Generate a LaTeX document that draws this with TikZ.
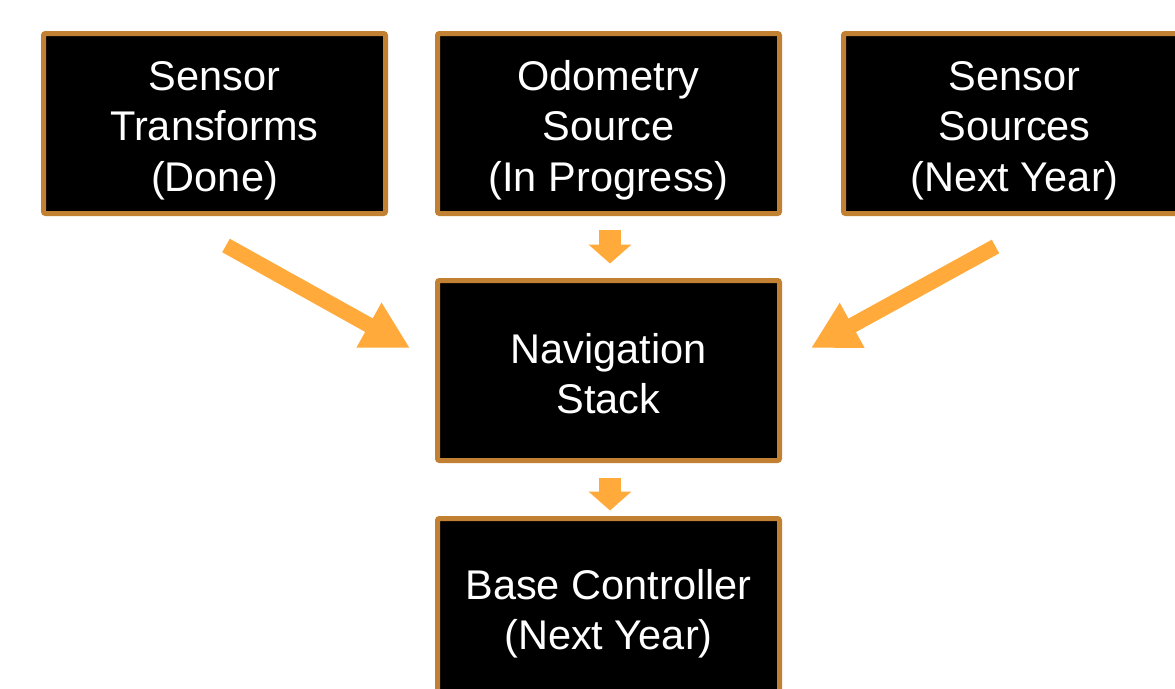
\documentclass[tikz,border=0pt]{standalone}
\usepackage{fontspec}
\setmainfont{Liberation Sans}
\usetikzlibrary{arrows.meta,calc}
\definecolor{boxborder}{RGB}{193,128,50}
\definecolor{arrowfill}{RGB}{255,170,58}
\newcommand{\boxlines}[2]{\raisebox{-#1}[\height][\depth]{\begin{tabular}{@{}c@{}}#2\end{tabular}}}
\begin{document}
\begin{tikzpicture}[x=1pt,y=-1pt,
  stagebox/.style={rectangle, fill=black, draw=boxborder, line width=5pt,
    rounded corners=2pt, minimum width=342pt, minimum height=180pt,
    text=white, align=center, font=\fontsize{41.5}{50.5}\selectfont, inner sep=0pt},
  diagarrow/.style={draw=arrowfill, line width=15.5pt,
    -{Triangle[length=47pt,width=48pt,fill=arrowfill]}},
  downarrow/.style={draw=arrowfill, line width=22pt,
    -{Triangle[length=19pt,width=42pt,fill=arrowfill]}}
]
\useasboundingbox (0,0) rectangle (1175,688);
\clip (0,0) rectangle (1175,688);
\node[stagebox] (st) at (214.5,123.5) {\boxlines{7pt}{Sensor\\Transforms\\(Done)}};
\node[stagebox] (odo) at (608.5,123.5) {\boxlines{7pt}{Odometry\\Source\\(In Progress)}};
\node[stagebox] (ss) at (1014.5,123.5) {\boxlines{7pt}{Sensor\\Sources\\(Next Year)}};
\node[stagebox] (nav) at (608.5,370.5) {\boxlines{8pt}{Navigation\\Stack}};
\node[stagebox] (base) at (608.5,608.5) {\boxlines{6pt}{Base Controller\\(Next Year)}};
\draw[diagarrow] ($(st.south)+(11.5,29.5)$) -- ($(nav.west)+(-25,-22.5)$);
\draw[diagarrow] ($(ss.south)+(-19,30.5)$) -- ($(nav.east)+(29,-22.5)$);
\draw[downarrow] ($(odo.south)+(1.5,13.5)$) -- ($(nav.north)+(1.5,-14.5)$);
\draw[downarrow] ($(nav.south)+(1.5,14.5)$) -- ($(base.north)+(1.5,-5.5)$);
\end{tikzpicture}
\end{document}
